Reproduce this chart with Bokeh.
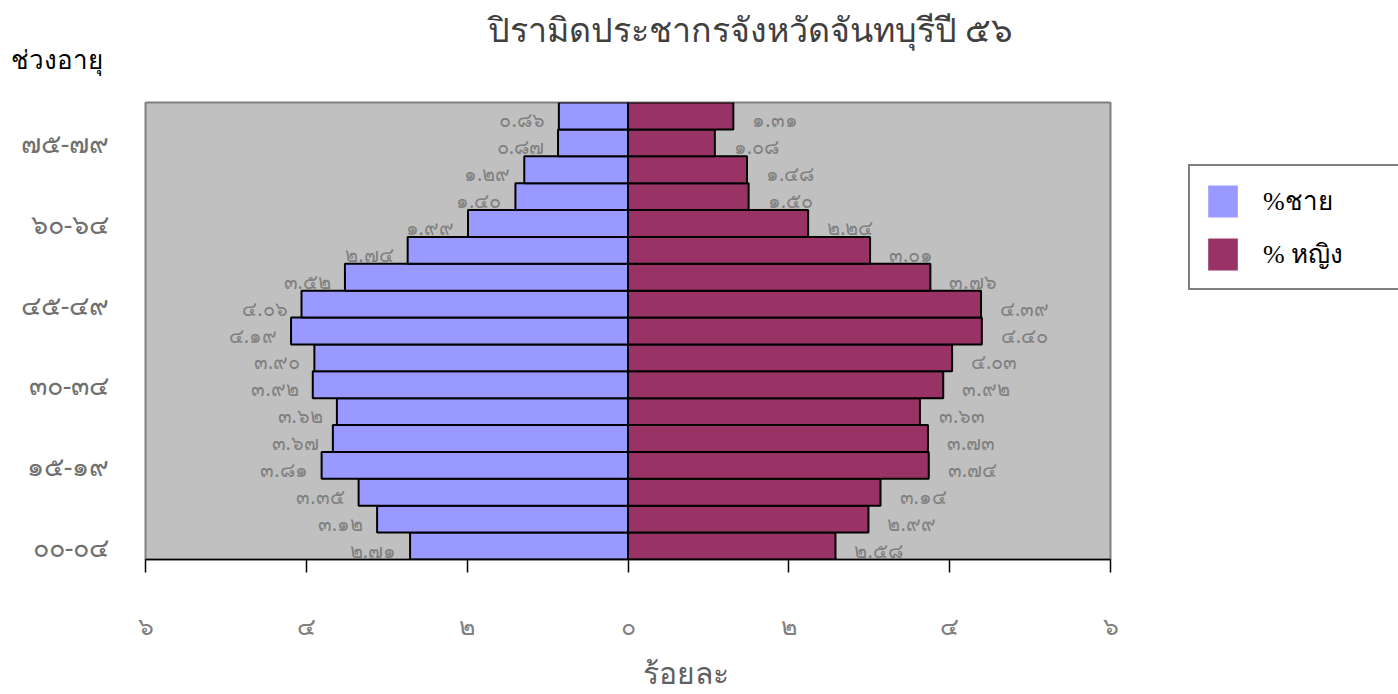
from bokeh.plotting import figure
from bokeh.models import (ColumnDataSource, LabelSet, Label, Legend, LegendItem,
                          FixedTicker, Range1d, Title)
from bokeh.embed import file_html
from bokeh.resources import INLINE
from bokeh.core.properties import value

# ---------------- data ----------------
age_groups = ["๐๐-๐๔", "๐๕-๐๙", "๑๐-๑๔", "๑๕-๑๙", "๒๐-๒๔", "๒๕-๒๙",
              "๓๐-๓๔", "๓๕-๓๙", "๔๐-๔๔", "๔๕-๔๙", "๕๐-๕๔", "๕๕-๕๙",
              "๖๐-๖๔", "๖๕-๖๙", "๗๐-๗๔", "๗๕-๗๙", "๘๐+"]
male = [2.71, 3.12, 3.35, 3.81, 3.67, 3.62, 3.92, 3.90, 4.19, 4.06,
        3.52, 2.74, 1.99, 1.40, 1.29, 0.87, 0.86]
female = [2.58, 2.99, 3.14, 3.74, 3.73, 3.63, 3.92, 4.03, 4.40, 4.39,
          3.76, 3.01, 2.24, 1.50, 1.48, 1.08, 1.31]
shown_age_ticks = [0, 3, 6, 9, 12, 15]
x_ticks = [-6, -4, -2, 0, 2, 4, 6]
x_tick_labels = ["๖", "๔", "๒", "๐", "๒", "๔", "๖"]
title_text = "ปิรามิดประชากรจังหวัดจันทบุรีปี ๕๖"
y_title = "ช่วงอายุ"
x_title = "ร้อยละ"
male_name = "%ชาย"
female_name = "% หญิง"

THAI = str.maketrans("0123456789", "๐๑๒๓๔๕๖๗๘๙")
def thai_num(v):
    return ("%.2f" % v).translate(THAI)

src = ColumnDataSource(dict(
    y=list(range(len(age_groups))),
    male_neg=[-v for v in male],
    female=female,
    male_lbl=[thai_num(v) for v in male],
    female_lbl=[thai_num(v) for v in female],
))

FONT = "Noto Sans"

# layout (pixels)
LEFT, TOP, FW, FH = 145, 102, 965, 457
XMIN, XMAX = -6, 6
YMIN, YMAX = -0.5, len(age_groups) - 0.5

def px_to_x(px):
    return XMIN + (px - LEFT) * (XMAX - XMIN) / FW

def py_to_y(py):
    return YMAX + (TOP - py) * (YMAX - YMIN) / FH

p = figure(frame_width=FW, frame_height=FH,
           min_border_left=LEFT, min_border_right=280,
           min_border_top=TOP, min_border_bottom=127,
           x_range=Range1d(XMIN, XMAX), y_range=Range1d(YMIN, YMAX),
           title=None, output_backend="svg", toolbar_location=None)

p.background_fill_color = "#C0C0C0"
p.border_fill_color = "white"
p.outline_line_color = "#808080"
p.outline_line_width = 2
p.xgrid.visible = False
p.ygrid.visible = False

rm = p.hbar(y="y", left="male_neg", right=0, height=1, source=src,
            fill_color="#9999FF", line_color="black", line_width=2)
rf = p.hbar(y="y", left=0, right="female", height=1, source=src,
            fill_color="#993366", line_color="black", line_width=2)

# legend proxies (hidden renderers, swatches without outline)
lm = p.hbar(y="y", left="male_neg", right=0, height=1, source=src,
            fill_color="#9999FF", line_color=None, visible=False)
lf = p.hbar(y="y", left=0, right="female", height=1, source=src,
            fill_color="#993366", line_color=None, visible=False)

# x axis
xa = p.xaxis[0]
xa.ticker = FixedTicker(ticks=x_ticks)
xa.major_label_overrides = {t: l for t, l in zip(x_ticks, x_tick_labels)}
xa.axis_line_color = "black"
xa.axis_line_width = 1.5
xa.major_tick_line_color = "black"
xa.major_tick_line_width = 1.5
xa.major_tick_out = 13
xa.major_tick_in = 0
xa.minor_tick_line_color = None
xa.major_label_standoff = 35
xa.major_label_text_color = "#808080"
xa.major_label_text_font = FONT
xa.major_label_text_font_size = "25px"

# y axis
ya = p.yaxis[0]
ya.ticker = FixedTicker(ticks=shown_age_ticks)
ya.major_label_overrides = {t: age_groups[t] for t in shown_age_ticks}
ya.axis_line_color = None
ya.major_tick_line_color = None
ya.minor_tick_line_color = None
ya.major_label_standoff = 30
ya.major_label_text_color = "#707070"
ya.major_label_text_font = FONT
ya.major_label_text_font_size = "27px"

# value labels
p.add_layout(LabelSet(x="male_neg", y="y", text="male_lbl", source=src,
                      x_offset=-14, y_offset=-4, text_align="right",
                      text_baseline="middle", text_color="#808080",
                      text_font=value(FONT), text_font_size="20px"))
p.add_layout(LabelSet(x="female", y="y", text="female_lbl", source=src,
                      x_offset=19, y_offset=-4, text_align="left",
                      text_baseline="middle", text_color="#808080",
                      text_font=value(FONT), text_font_size="20px"))

# titles above the frame (side-panel labels are not clipped to the frame)
p.add_layout(Label(x=px_to_x(487), y=py_to_y(28), text=title_text,
                   text_align="left", text_baseline="middle",
                   text_color="#404040", text_font=FONT,
                   text_font_size="34px"), "above")
p.add_layout(Label(x=px_to_x(10), y=py_to_y(58), text=y_title,
                   text_align="left", text_baseline="middle",
                   text_color="black", text_font=FONT,
                   text_font_size="26px"), "above")
p.add_layout(Title(text=x_title, align="left", offset=497, standoff=11,
                   text_color="#606060", text_font=FONT,
                   text_font_style="normal", text_font_size="30px"), "below")

legend = Legend(items=[LegendItem(label=male_name, renderers=[lm]),
                       LegendItem(label=female_name, renderers=[lf])],
                location=(78, 269), orientation="vertical",
                border_line_color="black", border_line_width=2.5,
                background_fill_color="white", background_fill_alpha=1,
                padding=14, spacing=12, margin=0,
                glyph_width=37, glyph_height=40, label_height=40,
                label_standoff=22, label_width=150,
                label_text_font="Liberation Serif", label_text_font_size="26px",
                label_text_color="black", label_text_baseline="middle")
p.add_layout(legend, "right")

open("out.html", "w").write(file_html(p, INLINE))
